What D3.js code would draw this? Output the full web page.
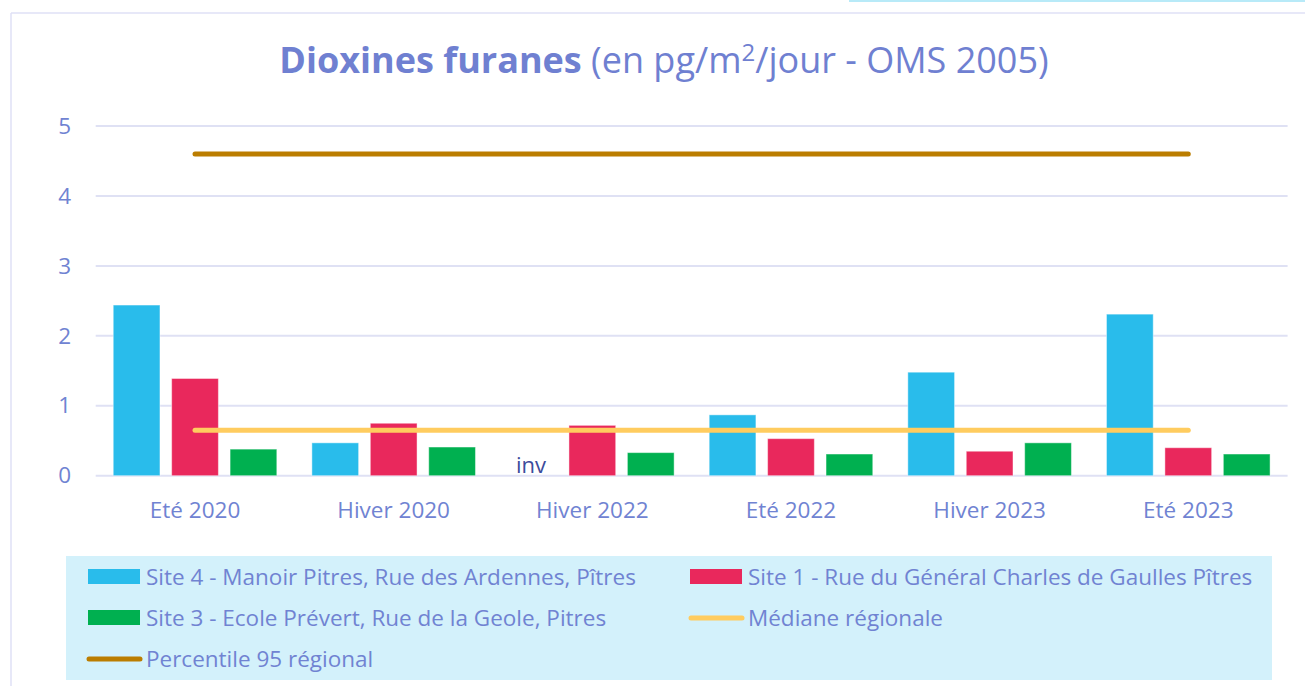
<!DOCTYPE html>
<html>
<head>
<meta charset="utf-8">
<script src="https://cdn.jsdelivr.net/npm/d3@7"></script>
<style>
  body { margin: 0; background: #fff; }
  svg { display: block; font-family: "Open Sans", "Noto Sans", sans-serif; }
</style>
</head>
<body>
<div id="chart"></div>
<script>
// data
let categories = ["Eté 2020", "Hiver 2020", "Hiver 2022", "Eté 2022", "Hiver 2023", "Eté 2023"];
let site4 = [2.44, 0.47, null, 0.87, 1.48, 2.31];
let site1 = [1.39, 0.75, 0.72, 0.53, 0.35, 0.40];
let site3 = [0.38, 0.41, 0.33, 0.31, 0.47, 0.31];
let medianeRegionale = 0.65;
let percentile95 = 4.6;
let yTicks = [0, 1, 2, 3, 4, 5];

let seriesNames = ["site4", "site1", "site3"];
let seriesColors = { site4: "#29bceb", site1: "#e9285c", site3: "#00b050" };
let seriesValues = { site4: site4, site1: site1, site3: site3 };

let legendItems = [
    { label: "Site 4 - Manoir Pitres, Rue des Ardennes, Pîtres", color: "#29bceb", kind: "rect" },
    { label: "Site 1 - Rue du Général Charles de Gaulles Pîtres", color: "#e9285c", kind: "rect" },
    { label: "Site 3 - Ecole Prévert, Rue de la Geole, Pitres", color: "#00b050", kind: "rect" },
    { label: "Médiane régionale", color: "#ffcc5f", kind: "line" },
    { label: "Percentile 95 régional", color: "#bb7d00", kind: "line" }
];

let width = 1305;
let height = 686;
let textColor = "#7083d2";

var svg = d3.select("#chart")
    .append("svg")
    .attr("width", width)
    .attr("height", height);

// frame bits
svg.append("line")
    .attr("x1", 849).attr("x2", width).attr("y1", 1).attr("y2", 1)
    .attr("stroke", "#b8eaf8").attr("stroke-width", 2);
svg.append("line")
    .attr("x1", 11).attr("x2", width).attr("y1", 13).attr("y2", 13)
    .attr("stroke", "#dfe1f6").attr("stroke-width", 1.5);
svg.append("line")
    .attr("x1", 11).attr("x2", 11).attr("y1", 13).attr("y2", height)
    .attr("stroke", "#dfe1f6").attr("stroke-width", 1.5);

// title
var title = svg.append("text")
    .attr("x", 664)
    .attr("y", 73)
    .attr("text-anchor", "middle")
    .attr("fill", "#6f80d1")
    .style("font-size", "36px");
title.append("tspan").attr("font-weight", "bold").text("Dioxines furanes");
title.append("tspan").text(" (en pg/m");
title.append("tspan").attr("dy", -12).style("font-size", "24px").text("2");
title.append("tspan").attr("dy", 12).text("/jour - OMS 2005)");

// scales
var x0 = d3.scaleBand()
    .domain(categories)
    .range([95.7, 1287.6]);

var x1 = d3.scaleBand()
    .domain(seriesNames)
    .range([0, x0.bandwidth()])
    .paddingInner(0.2)
    .paddingOuter(0.3);

var y = d3.scaleLinear()
    .domain([0, 5])
    .range([475.7, 126]);

// grid
svg.append("g")
    .selectAll("line")
    .data(yTicks)
    .enter()
    .append("line")
    .attr("x1", 95.7)
    .attr("x2", 1287.6)
    .attr("y1", d => y(d))
    .attr("y2", d => y(d))
    .attr("stroke", "#dfe1f4")
    .attr("stroke-width", 2);

// y axis labels
var yAxis = svg.append("g")
    .attr("transform", "translate(71,0)")
    .call(d3.axisLeft(y).tickValues(yTicks).tickFormat(d3.format("d")).tickSize(0).tickPadding(0));
yAxis.select(".domain").remove();
yAxis.selectAll("text")
    .attr("fill", textColor)
    .style("font-size", "22.5px")
    .style("font-family", "\"Open Sans\", sans-serif");

// x axis labels
var xAxis = svg.append("g")
    .attr("transform", "translate(0,502)")
    .call(d3.axisBottom(x0).tickSize(0).tickPadding(0));
xAxis.select(".domain").remove();
xAxis.selectAll("text")
    .attr("fill", textColor)
    .style("font-size", "22.5px")
    .style("font-family", "\"Open Sans\", sans-serif");

// bars
let barData = [];
categories.forEach(function (c, i) {
    seriesNames.forEach(function (s) {
        barData.push({ category: c, series: s, value: seriesValues[s][i] });
    });
});

svg.append("g")
    .selectAll("rect")
    .data(barData.filter(d => d.value != null))
    .enter()
    .append("rect")
    .attr("x", d => x0(d.category) + x1(d.series))
    .attr("y", d => y(d.value))
    .attr("width", x1.bandwidth())
    .attr("height", d => y(0) - y(d.value))
    .attr("fill", d => seriesColors[d.series])
    .attr("stroke", "rgba(255,255,255,0.45)")
    .attr("stroke-width", 1);

// "inv" for missing value
svg.append("g")
    .selectAll("text")
    .data(barData.filter(d => d.value == null))
    .enter()
    .append("text")
    .attr("x", d => x0(d.category) + x1(d.series) + x1.bandwidth() / 2 - 3)
    .attr("y", y(0) - 3)
    .attr("text-anchor", "middle")
    .attr("fill", "#3c4c9c")
    .style("font-size", "22px")
    .text("inv");

// reference lines
let refLines = [
    { value: percentile95, color: "#bb7d00" },
    { value: medianeRegionale, color: "#ffcc5f" }
];
svg.append("g")
    .selectAll("line")
    .data(refLines)
    .enter()
    .append("line")
    .attr("x1", x0(categories[0]) + x0.bandwidth() / 2)
    .attr("x2", x0(categories[categories.length - 1]) + x0.bandwidth() / 2)
    .attr("y1", d => y(d.value))
    .attr("y2", d => y(d.value))
    .attr("stroke", d => d.color)
    .attr("stroke-width", 5)
    .attr("stroke-linecap", "round");

// legend
svg.append("rect")
    .attr("x", 66).attr("y", 556)
    .attr("width", 1206).attr("height", 124)
    .attr("fill", "#d3f1fb");

let legendCols = [88, 690];
let legendRows = [577, 618, 659];

var legend = svg.append("g")
    .selectAll("g")
    .data(legendItems)
    .enter()
    .append("g")
    .attr("transform", (d, i) => "translate(" + legendCols[i % 2] + "," + legendRows[Math.floor(i / 2)] + ")");

legend.filter(d => d.kind == "rect")
    .append("rect")
    .attr("x", 0).attr("y", -8)
    .attr("width", 52).attr("height", 15)
    .attr("fill", d => d.color);

legend.filter(d => d.kind == "line")
    .append("line")
    .attr("x1", 1).attr("x2", 52).attr("y1", 0).attr("y2", 0)
    .attr("stroke", d => d.color)
    .attr("stroke-width", 5)
    .attr("stroke-linecap", "round");

legend.append("text")
    .attr("x", 58)
    .attr("y", 0)
    .attr("dy", "0.35em")
    .attr("fill", textColor)
    .style("font-size", "22.5px")
    .text(d => d.label);
</script>
</body>
</html>
